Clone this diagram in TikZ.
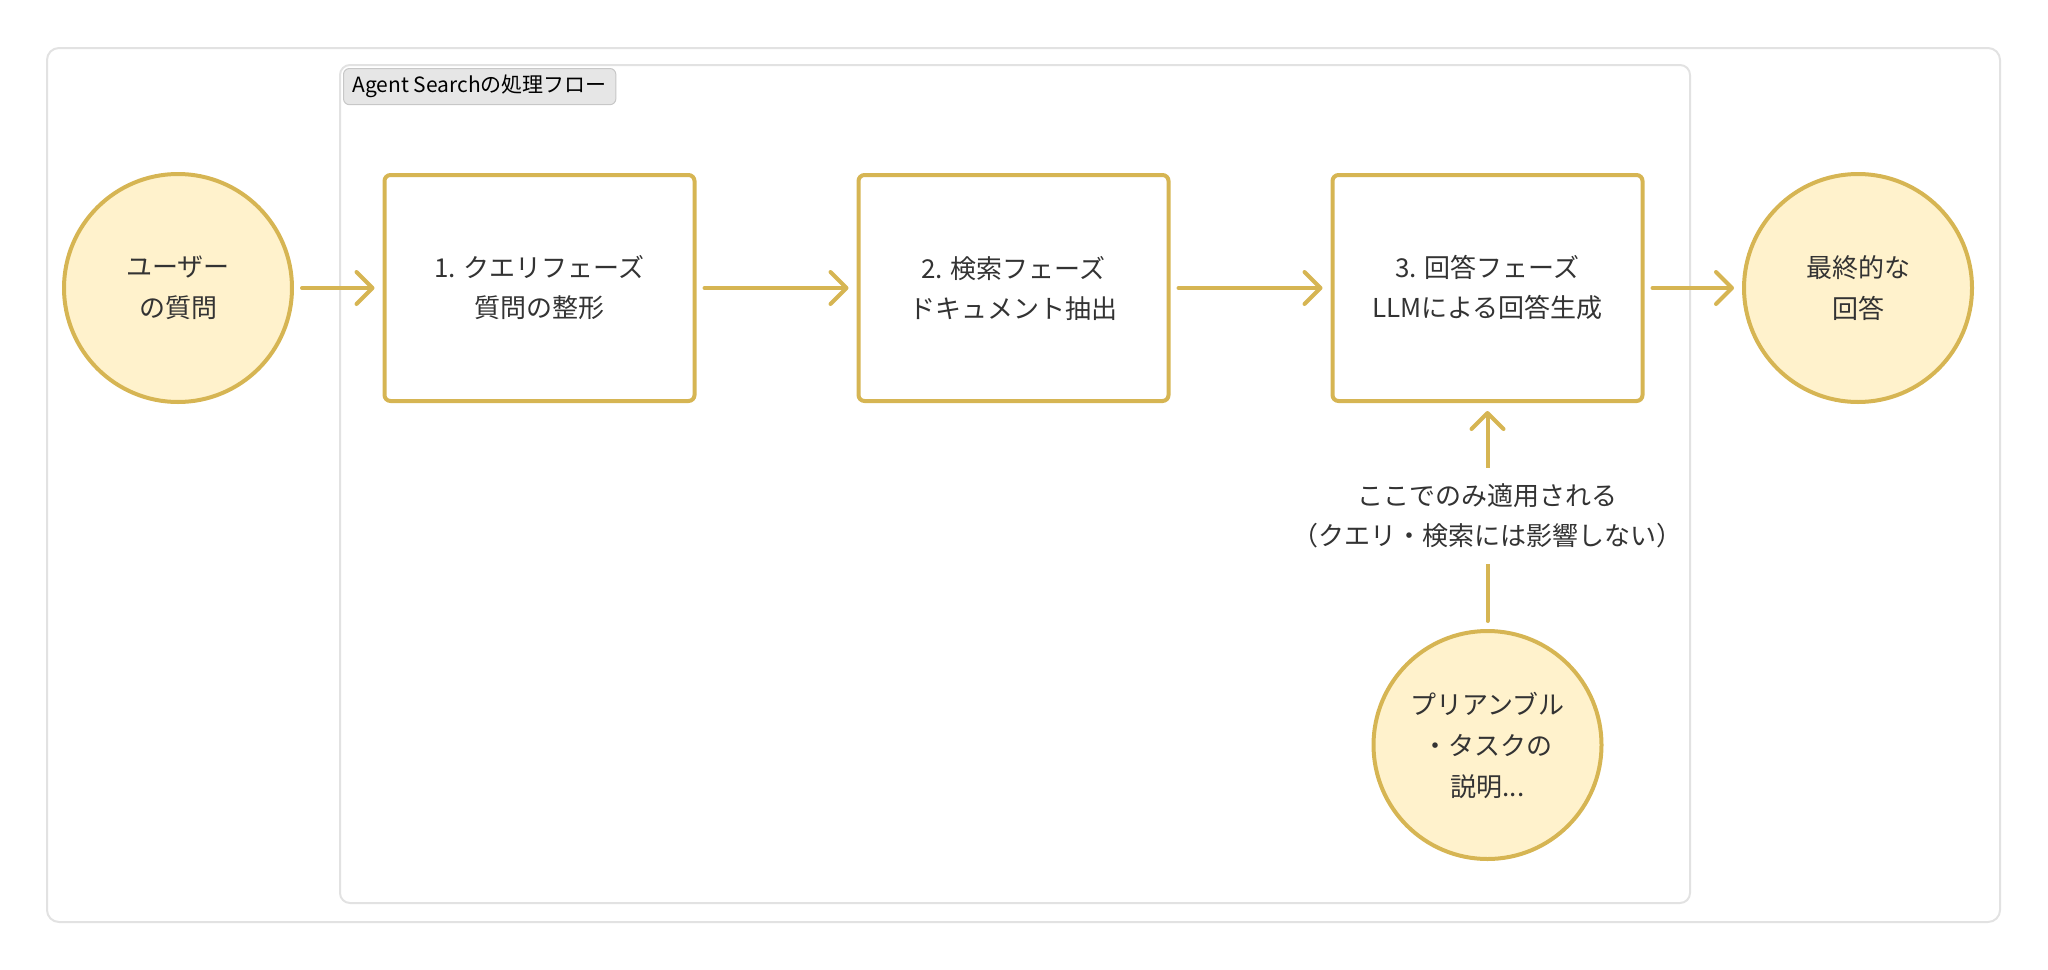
\documentclass[tikz,border=0pt]{standalone}
\usepackage{fontspec}
\setmainfont{Noto Sans CJK JP}
\usetikzlibrary{positioning,arrows.meta}
\definecolor{gold}{HTML}{D6B553}
\definecolor{cream}{HTML}{FFF2CC}
\definecolor{framegray}{HTML}{E2E2E2}
\definecolor{taggray}{HTML}{E6E6E6}
\definecolor{ink}{HTML}{333333}
\tikzset{
  endpoint/.style={circle, draw=gold, fill=cream, line width=2pt, minimum size=114pt,
    inner sep=0pt, outer sep=0pt, align=center, text=ink, font=\fontsize{13}{20.5}\selectfont},
  phase/.style={rectangle, rounded corners=3pt, draw=gold, fill=white, line width=2pt,
    minimum width=155pt, minimum height=113pt, outer sep=0pt, align=center, text=ink,
    font=\fontsize{13}{20}\selectfont},
  flow/.style={draw=gold, line width=2pt, line cap=round,
    -{Straight Barb[length=8pt,width=16pt,round]}, shorten >=5pt, shorten <=5pt},
  note/.style={fill=white, align=center, text=ink, inner xsep=0pt, inner ysep=8pt,
    font=\fontsize{13}{20}\selectfont},
  tagbox/.style={draw=black!22, fill=taggray, rounded corners=3pt, line width=0.5pt,
    minimum height=15.5pt, inner xsep=4.5pt, text=black, font=\fontsize{10.5}{12}\selectfont}
}
\begin{document}
\begin{tikzpicture}[x=0.5pt, y=-0.5pt]
  \useasboundingbox (0,0) rectangle (2048,969);
  \draw [framegray, line width=1pt, rounded corners=6pt] (47,48) rectangle (2000,922);
  \draw [framegray, line width=1pt, rounded corners=5pt] (340,65) rectangle (1690,903);
  \node (tag) [tagbox, anchor=north west] at (343,68) {Agent Searchの処理フロー};

  \node (q) [endpoint] at (178,288) {ユーザー\\の質問};
  \node (b1) [phase, right=46.25pt of q] {1. クエリフェーズ\\質問の整形};
  \node (b2) [phase, right=82pt of b1] {2. 検索フェーズ\\ドキュメント抽出};
  \node (b3) [phase, right=82pt of b2] {3. 回答フェーズ\\LLMによる回答生成};
  \node (ans) [endpoint, right=50.75pt of b3] {最終的な\\回答};
  \node (pre) [endpoint, below=115pt of b3] {プリアンブル\\・タスクの\\説明...};

  \draw [flow] (q) -- (b1);
  \draw [flow] (b1) -- (b2);
  \draw [flow] (b2) -- (b3);
  \draw [flow] (b3) -- (ans);
  \draw [flow] (pre) -- node [note] {ここでのみ適用される\\（クエリ・検索には影響しない）} (b3);
\end{tikzpicture}
\end{document}
